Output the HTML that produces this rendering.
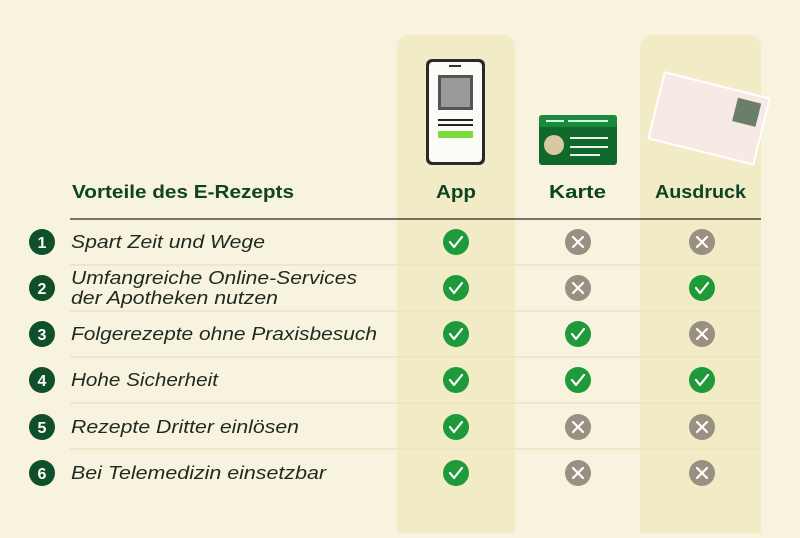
<!DOCTYPE html>
<html><head><meta charset="utf-8"><style>
body{margin:0;width:800px;height:533px;background:#f8f3de;overflow:hidden;font-family:"Liberation Sans",sans-serif;}
</style></head><body>
<svg width="800" height="533" viewBox="0 0 800 533" xmlns="http://www.w3.org/2000/svg">
<rect width="800" height="533" fill="#f8f3de"/>
<rect x="397" y="35" width="118" height="520" rx="12" fill="#f2ecc6"/>
<rect x="640" y="35" width="121" height="520" rx="12" fill="#f2ecc6"/>
<!-- phone -->
<rect x="426" y="59" width="59" height="106" rx="6" fill="#2a2a2a"/>
<rect x="429" y="62" width="53" height="100" rx="4" fill="#fbfbf8"/>
<rect x="449" y="65" width="12" height="2" fill="#333"/>
<rect x="438" y="75" width="35" height="35" fill="#555"/>
<rect x="441" y="78" width="29" height="29" fill="#999"/>
<rect x="438" y="119" width="35" height="2" fill="#222"/>
<rect x="438" y="124" width="35" height="2" fill="#222"/>
<rect x="438" y="131" width="35" height="7" fill="#7ddb3e"/>
<!-- card -->
<rect x="539" y="115" width="78" height="50" rx="3" fill="#11682c"/>
<rect x="539" y="115" width="78" height="12" rx="3" fill="#1b8a3a"/>
<rect x="546" y="120" width="18" height="2" fill="#cfe"/><rect x="568" y="120" width="40" height="2" fill="#cfe"/>
<circle cx="554" cy="145" r="10" fill="#d9c9a0"/>
<rect x="570" y="137" width="38" height="2" fill="#e8f5e8"/><rect x="570" y="146" width="38" height="2" fill="#e8f5e8"/><rect x="570" y="154" width="30" height="2" fill="#e8f5e8"/>
<!-- paper -->
<g transform="rotate(14 712 115)"><rect x="656" y="85" width="108" height="68" fill="#f6e9e6" stroke="#fff" stroke-width="2"/>
<rect x="733" y="92" width="24" height="24" fill="#6a7f6a"/></g>
<g font-weight="bold" fill="#0d4422" font-size="18">
<text x="72" y="198" textLength="222" lengthAdjust="spacingAndGlyphs">Vorteile des E-Rezepts</text>
<text x="436" y="198" textLength="40" lengthAdjust="spacingAndGlyphs">App</text>
<text x="549" y="198" textLength="57" lengthAdjust="spacingAndGlyphs">Karte</text>
<text x="655" y="198" textLength="91" lengthAdjust="spacingAndGlyphs">Ausdruck</text>
</g>
<line x1="70" y1="219" x2="761" y2="219" stroke="#4a4a3a" stroke-width="1.5"/>
<g stroke="#ece4be" stroke-width="1.5">
<line x1="70" y1="265" x2="761" y2="265"/><line x1="70" y1="311" x2="761" y2="311"/><line x1="70" y1="357" x2="761" y2="357"/><line x1="70" y1="403" x2="761" y2="403"/><line x1="70" y1="449" x2="761" y2="449"/>
</g>
<defs>
<g id="ok"><circle r="13" fill="#1e9a3a"/><path d="M-6 0 L-2 5 L6 -5" fill="none" stroke="#fff" stroke-width="2.2" stroke-linecap="round" stroke-linejoin="round"/></g>
<g id="no"><circle r="13" fill="#9a9082"/><path d="M-5 -5 L5 5 M5 -5 L-5 5" stroke="#fff" stroke-width="2.2" stroke-linecap="round"/></g>
</defs>
<g fill="#0f4f2a">
<circle cx="42" cy="242" r="13"/><circle cx="42" cy="288" r="13"/><circle cx="42" cy="334" r="13"/><circle cx="42" cy="380" r="13"/><circle cx="42" cy="427" r="13"/><circle cx="42" cy="473" r="13"/>
</g>
<g fill="#fff" font-weight="bold" font-size="16" text-anchor="middle">
<text x="42" y="248">1</text><text x="42" y="294">2</text><text x="42" y="340">3</text><text x="42" y="386">4</text><text x="42" y="433">5</text><text x="42" y="479">6</text>
</g>
<g fill="#1e2a20" font-style="italic" font-size="18" lengthAdjust="spacingAndGlyphs">
<text x="71" y="248" textLength="194" lengthAdjust="spacingAndGlyphs">Spart Zeit und Wege</text>
<text x="71" y="284" textLength="286" lengthAdjust="spacingAndGlyphs">Umfangreiche Online-Services</text>
<text x="71" y="304" textLength="207" lengthAdjust="spacingAndGlyphs">der Apotheken nutzen</text>
<text x="71" y="340" textLength="306" lengthAdjust="spacingAndGlyphs">Folgerezepte ohne Praxisbesuch</text>
<text x="71" y="386" textLength="147" lengthAdjust="spacingAndGlyphs">Hohe Sicherheit</text>
<text x="71" y="433" textLength="228" lengthAdjust="spacingAndGlyphs">Rezepte Dritter einlösen</text>
<text x="71" y="479" textLength="255" lengthAdjust="spacingAndGlyphs">Bei Telemedizin einsetzbar</text>
</g>
<use href="#ok" x="456" y="242"/><use href="#no" x="578" y="242"/><use href="#no" x="702" y="242"/>
<use href="#ok" x="456" y="288"/><use href="#no" x="578" y="288"/><use href="#ok" x="702" y="288"/>
<use href="#ok" x="456" y="334"/><use href="#ok" x="578" y="334"/><use href="#no" x="702" y="334"/>
<use href="#ok" x="456" y="380"/><use href="#ok" x="578" y="380"/><use href="#ok" x="702" y="380"/>
<use href="#ok" x="456" y="427"/><use href="#no" x="578" y="427"/><use href="#no" x="702" y="427"/>
<use href="#ok" x="456" y="473"/><use href="#no" x="578" y="473"/><use href="#no" x="702" y="473"/>
</svg>
</body></html>
